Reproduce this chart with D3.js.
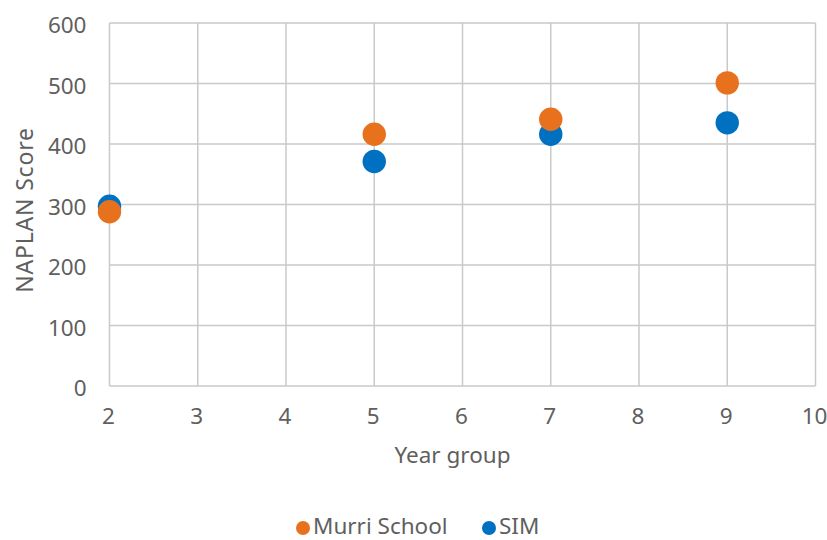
<!DOCTYPE html>
<html>
<head>
<meta charset="utf-8">
<script src="https://cdn.jsdelivr.net/npm/d3@7"></script>
<style>
  html, body { margin: 0; padding: 0; background: #fff; }
  svg text { font-family: "Noto Sans", "Open Sans", sans-serif; fill: #5f5f5f; }
</style>
</head>
<body>
<svg id="chart" width="827" height="540"></svg>
<script>
// NAPLAN scores by year group
const yearGroups = [2, 5, 7, 9];
const murriScores = [288, 416, 441, 501];
const simScores = [297, 371, 416, 435];
const xTicks = [2, 3, 4, 5, 6, 7, 8, 9, 10];
const yTicks = [0, 100, 200, 300, 400, 500, 600];
const seriesNames = ["Murri School", "SIM"];
const seriesColors = ["#E8711E", "#0070C0"];

(function () {
  const svg = d3.select("#chart");
  const plotLeft = 109.5, plotRight = 815.5, plotTop = 23, plotBottom = 386;
  const fontSize = "22.5px";

  const x = d3.scaleLinear().domain([2, 10]).range([plotLeft, plotRight]);
  const y = d3.scaleLinear().domain([0, 600]).range([plotBottom, plotTop]);

  // gridlines
  const grid = svg.append("g").attr("stroke", "#c9c9c9").attr("stroke-width", 1.5);
  grid.selectAll("line.h").data(yTicks).join("line").attr("class", "h")
    .attr("x1", plotLeft).attr("x2", plotRight)
    .attr("y1", d => y(d)).attr("y2", d => y(d));
  grid.selectAll("line.v").data(xTicks).join("line").attr("class", "v")
    .attr("y1", plotTop).attr("y2", plotBottom)
    .attr("x1", d => x(d)).attr("x2", d => x(d));

  // axes (labels only)
  const yAxis = svg.append("g").attr("transform", `translate(${plotLeft - 23},0)`)
    .call(d3.axisLeft(y).tickValues(yTicks).tickSize(0).tickPadding(0));
  yAxis.select(".domain").remove();
  yAxis.selectAll("text").style("font-size", fontSize).attr("dy", "0.44em");

  const xAxis = svg.append("g").attr("transform", `translate(-1.5,${plotBottom + 22})`)
    .call(d3.axisBottom(x).tickValues(xTicks).tickSize(0).tickPadding(0));
  xAxis.select(".domain").remove();
  xAxis.selectAll("text").style("font-size", fontSize).attr("dy", "0.71em");

  // axis titles
  svg.append("text").attr("x", 452.5).attr("y", 463)
    .attr("text-anchor", "middle").style("font-size", fontSize).text("Year group");
  svg.append("text").attr("transform", "translate(33,210) rotate(-90)")
    .attr("text-anchor", "middle").style("font-size", "23px")
    .style("letter-spacing", "0.8px").text("NAPLAN Score");

  // points: SIM first so Murri School sits on top
  const series = [
    { name: seriesNames[1], color: seriesColors[1], values: simScores },
    { name: seriesNames[0], color: seriesColors[0], values: murriScores }
  ];
  series.forEach(s => {
    svg.append("g").selectAll("circle").data(yearGroups).join("circle")
      .attr("cx", d => x(d))
      .attr("cy", (d, i) => y(s.values[i]))
      .attr("r", 11.7)
      .attr("fill", s.color);
  });

  // legend
  const legend = svg.append("g").attr("transform", "translate(0,526)");
  const legendItems = [
    { name: seriesNames[0], color: seriesColors[0], x: 303 },
    { name: seriesNames[1], color: seriesColors[1], x: 489 }
  ];
  legendItems.forEach(it => {
    legend.append("circle").attr("cx", it.x).attr("cy", 2).attr("r", 7).attr("fill", it.color);
    legend.append("text").attr("x", it.x + 10).attr("y", 0).attr("dy", "0.36em")
      .style("font-size", fontSize).text(it.name);
  });
})();
</script>
</body>
</html>
